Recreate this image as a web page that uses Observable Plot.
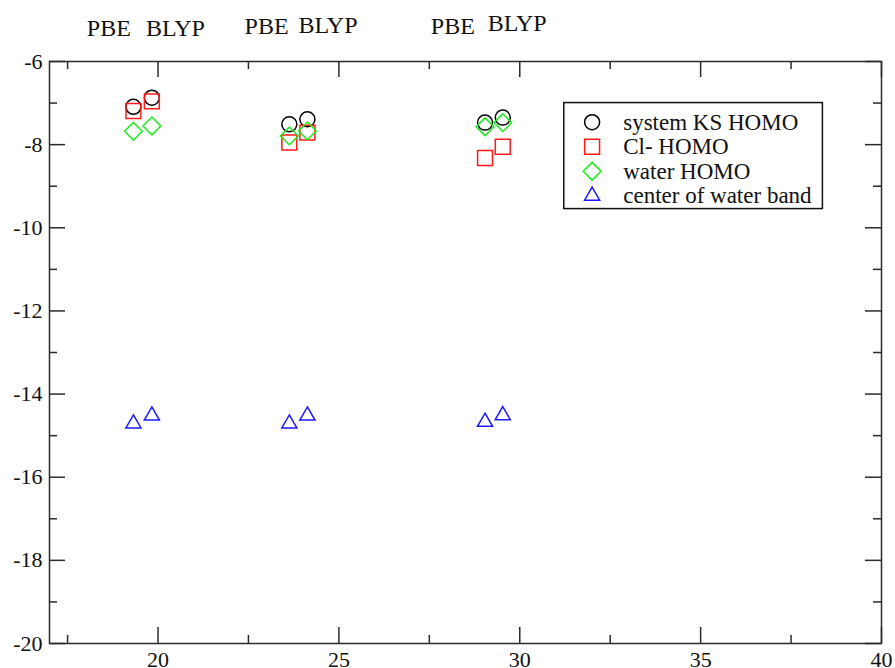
<!DOCTYPE html>
<html>
<head>
<meta charset="utf-8">
<script src="https://cdn.jsdelivr.net/npm/d3@7"></script>
<script src="https://cdn.jsdelivr.net/npm/@observablehq/plot@0.6"></script>
<style>
  body { margin: 0; background: #fff; }
  #chart svg { display: block; }
</style>
</head>
<body>
<div id="chart"></div>
<script>
// Orbital energies (eV) for PBE / BLYP at three system sizes
const xPositions = [19.32, 19.83, 23.63, 24.13, 29.04, 29.53];
const functionals = ["PBE", "BLYP", "PBE", "BLYP", "PBE", "BLYP"];
const ksHomo     = [-7.09, -6.87, -7.51, -7.39, -7.47, -7.35];
const clHomo     = [-7.19, -6.96, -7.95, -7.71, -8.32, -8.05];
const waterHomo  = [-7.68, -7.55, -7.79, -7.67, -7.57, -7.47];
const waterBand  = [-14.71, -14.52, -14.71, -14.52, -14.67, -14.51];

// Functional labels written above each pair
const headerX = [18.64, 20.48, 23.0, 24.7, 28.15, 29.93];
const headerY = [-5.19, -5.19, -5.16, -5.12, -5.15, -5.08];

// Axis ticks
const xTicks = [20, 25, 30, 35, 40];
const xMinorTicks = [17.5, 22.5, 27.5, 32.5, 37.5];
const yTicks = [-20, -18, -16, -14, -12, -10, -8, -6];
const yMinorTicks = [-19, -17, -15, -13, -11, -9, -7];

// Series names
const seriesNames = ["system KS HOMO", "Cl- HOMO", "water HOMO", "center of water band"];

const W = 895, H = 668;
const mL = 49, mR = 14, mT = 61, mB = 25;
const iw = W - mL - mR, ih = H - mT - mB;
const majorLen = 16, minorLen = 8;
const ink = "#2a2a2a";
const font = "'Liberation Serif', 'Times New Roman', serif";

const series = [
  {name: seriesNames[0], values: ksHomo,    symbol: "circle",    r: 7.5, stroke: "#000000"},
  {name: seriesNames[1], values: clHomo,    symbol: "square2",   r: 9.5, stroke: "#ff1a1a"},
  {name: seriesNames[2], values: waterHomo, symbol: "diamond2",  r: 8,   stroke: "#1aee1a"},
  {name: seriesNames[3], values: waterBand, symbol: "triangle2", r: 7.2, stroke: "#1a1aff"}
];

const points = series.map(s => xPositions.map((x, i) => ({x, y: s.values[i], functional: functionals[i]})));
const headers = headerX.map((x, i) => ({x, y: headerY[i], text: functionals[i]}));

// Legend placement (data units)
const legendSymbolX = 32.0, legendTextX = 32.86;
const legendRows = [-7.46, -8.05, -8.64, -9.23];
const legendItems = series.map((s, i) => ({...s, y: legendRows[i]}));

const marks = [
  // inward tick marks on all four sides
  Plot.ruleX(xTicks, {x: d => d, insetTop: ih - majorLen, stroke: ink, strokeWidth: 1.5}),
  Plot.ruleX(xMinorTicks, {x: d => d, insetTop: ih - minorLen, stroke: ink, strokeWidth: 1.5}),
  Plot.ruleX(xTicks, {x: d => d, insetBottom: ih - majorLen, stroke: ink, strokeWidth: 1.5}),
  Plot.ruleX(xMinorTicks, {x: d => d, insetBottom: ih - minorLen, stroke: ink, strokeWidth: 1.5}),
  Plot.ruleY(yTicks, {y: d => d, insetRight: iw - majorLen, stroke: ink, strokeWidth: 1.5}),
  Plot.ruleY(yMinorTicks, {y: d => d, insetRight: iw - minorLen, stroke: ink, strokeWidth: 1.5}),
  Plot.ruleY(yTicks, {y: d => d, insetLeft: iw - majorLen, stroke: ink, strokeWidth: 1.5}),
  Plot.ruleY(yMinorTicks, {y: d => d, insetLeft: iw - minorLen, stroke: ink, strokeWidth: 1.5}),
  Plot.frame({stroke: ink, strokeWidth: 1.5}),
  // tick labels
  Plot.text(xTicks, {x: d => d, text: d => String(d), frameAnchor: "bottom", dy: 8, lineAnchor: "top",
    fill: "#111", fontSize: 22, fontFamily: font}),
  Plot.text(yTicks, {y: d => d, text: d => String(d), frameAnchor: "left", dx: -7, textAnchor: "end",
    lineAnchor: "middle", fill: "#111", fontSize: 22, fontFamily: font}),
  // data
  ...series.map((s, k) => Plot.dot(points[k], {
    x: "x", y: "y", symbol: () => s.symbol, r: s.r, stroke: s.stroke, strokeWidth: 1.5, fill: "none"
  })),
  // functional labels
  Plot.text(headers, {x: "x", y: "y", text: "text", fill: "#111", fontSize: 24, fontFamily: font, lineAnchor: "middle"}),
  // legend
  Plot.rect([0], {x1: 31.23, x2: 38.38, y1: -7.0, y2: -9.55, fill: "white", stroke: "#111", strokeWidth: 1.5}),
  ...legendItems.map(s => Plot.dot([s], {
    x: () => legendSymbolX, y: "y", symbol: () => s.symbol, r: s.r, stroke: s.stroke, strokeWidth: 1.5, fill: "none"
  })),
  Plot.text(legendItems, {x: () => legendTextX, y: "y", text: "name", textAnchor: "start", fill: "#111", fontSize: 23, fontFamily: font})
];

const chart = Plot.plot({
  width: W,
  height: H,
  marginLeft: mL,
  marginRight: mR,
  marginTop: mT,
  marginBottom: mB,
  x: {type: "linear", domain: [17, 40], axis: null},
  y: {type: "linear", domain: [-20, -6], axis: null},
  symbol: {type: "identity"},
  style: {fontFamily: font, fontSize: "22px", background: "#fff", color: "#111", overflow: "visible"},
  marks
});

document.getElementById("chart").append(chart);
</script>
</body>
</html>
